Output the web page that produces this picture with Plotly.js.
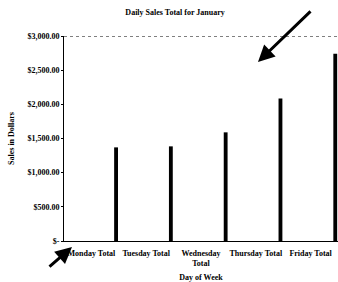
<!DOCTYPE html>
<html>
<head>
<meta charset="utf-8">
<script src="https://cdn.plot.ly/plotly-3.0.1.min.js"></script>
<style>html,body{margin:0;padding:0;background:#fff;}#chart{width:338px;height:282px;}</style>
</head>
<body>
<div id="chart"></div>
<script>
// Data
const categories = ["Monday Total", "Tuesday Total", "Wednesday<br>Total", "Thursday Total", "Friday Total"];
const salesValues = [1370, 1385, 1590, 2085, 2740];
const yTickVals = [0, 500, 1000, 1500, 2000, 2500, 3000];
const yTickText = ["$-", "$500.00", "$1,000.00", "$1,500.00", "$2,000.00", "$2,500.00", "$3,000.00"];

const fnt = {family: "Liberation Serif, serif", size: 8, color: "#000", weight: "bold"};

const trace = {
  type: "bar",
  x: categories,
  y: salesValues,
  width: 0.07,
  offset: 0.415,
  marker: {color: "#000", line: {width: 0}},
  hoverinfo: "skip"
};

const layout = {
  width: 338, height: 282,
  margin: {l: 64, r: 0, t: 36, b: 41, pad: 0},
  paper_bgcolor: "#fff", plot_bgcolor: "#fff",
  showlegend: false,
  font: fnt,
  title: {text: "Daily Sales Total for January", font: fnt, xref: "container", yref: "container", x: 0.518, y: 0.957, xanchor: "center", yanchor: "middle"},
  xaxis: {
    type: "category", range: [-0.5, 4.5],
    showline: true, linecolor: "#000", linewidth: 1,
    showgrid: false, zeroline: false,
    ticks: "", tickfont: fnt, ticklabelstandoff: 4,
    title: {text: "Day of Week", font: fnt, standoff: 9}
  },
  yaxis: {
    range: [0, 3000],
    tickvals: yTickVals, ticktext: yTickText,
    showline: true, linecolor: "#000", linewidth: 1,
    showgrid: false, zeroline: false,
    ticks: "outside", ticklen: 2, tickcolor: "#000",
    tickfont: fnt,
    title: {text: "Sales in Dollars", font: fnt, standoff: 11}
  },
  shapes: [
    {type: "line", xref: "paper", yref: "y", x0: 0, x1: 1, y0: 3000, y1: 3000, line: {color: "#000", width: 1, dash: "dot"}}
  ],
  annotations: [
    {xref: "paper", yref: "paper", x: (258-64)/274, y: (241-62)/205, text: "", showarrow: true,
     arrowhead: 2, arrowsize: 1.1, arrowwidth: 3, arrowcolor: "#000", axref: "pixel", ayref: "pixel", ax: 54, ay: -52},
    {xref: "paper", yref: "paper", x: (72-64)/274, y: (241-247)/205, text: "", showarrow: true,
     arrowhead: 2, arrowsize: 1.1, arrowwidth: 3, arrowcolor: "#000", axref: "pixel", ayref: "pixel", ax: -24, ay: 21}
  ]
};

Plotly.newPlot("chart", [trace], layout, {displayModeBar: false, staticPlot: true});
</script>
</body>
</html>
